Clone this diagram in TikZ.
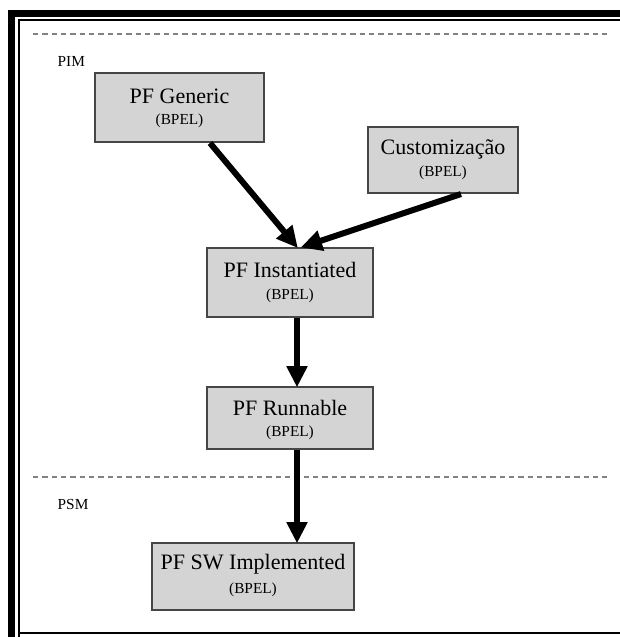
\documentclass[tikz,border=0pt]{standalone}
\usepackage{fontspec}
\setmainfont{Liberation Serif}
\usetikzlibrary{arrows.meta}
\definecolor{boxfill}{RGB}{212,212,212}
\definecolor{boxline}{RGB}{70,70,70}
\definecolor{dashgray}{RGB}{130,130,130}
\tikzset{
  stagebox/.style={draw=boxline, line width=1.1pt, fill=boxfill},
  flow/.style={line width=4.5pt, -{Triangle[length=16pt,width=15pt]}, shorten >=-1pt},
  levelline/.style={draw=dashgray, line width=1.2pt, dash pattern=on 4pt off 3pt},
  levellabel/.style={font=\fontsize{11.5}{13}\selectfont, anchor=west},
  titletext/.style={font=\fontsize{16.5}{19}\selectfont},
  subtext/.style={font=\fontsize{11.5}{13}\selectfont}
}
\begin{document}
\begin{tikzpicture}[x=0.75pt,y=-0.75pt]
\useasboundingbox (0,0) rectangle (620,637);
\fill[white] (0,0) rectangle (620,637);
% double frame: heavy band on top and left, thin rule inside
\fill[black] (8,10) rectangle (620,17);
\fill[black] (8,10) rectangle (15,637);
\draw[line width=1.5pt] (19,637) -- (19,20) -- (620,20);
\draw[line width=1.5pt] (19,633) -- (620,633);
% level separators
\draw[levelline] (33,34) -- (607,34);
\draw[levelline] (33,477) -- (607,477);
\node[levellabel] (pim) at (53,61) {PIM};
\node[levellabel] (psm) at (53,504) {PSM};
% stages
\path[stagebox] (95,73) rectangle (264,142);
\node[titletext] at (179.5,96) {PF Generic};
\node[subtext] at (179.5,121) {(BPEL)};
\path[stagebox] (368,127) rectangle (518,193);
\node[titletext] at (443,149) {Customização};
\node[subtext] at (443,173) {(BPEL)};
\path[stagebox] (207,248) rectangle (373,317);
\node[titletext] at (290,270) {PF Instantiated};
\node[subtext] at (290,296) {(BPEL)};
\path[stagebox] (207,387) rectangle (373,449);
\node[titletext] at (290,408) {PF Runnable};
\node[subtext] at (290,433) {(BPEL)};
\path[stagebox] (152,543) rectangle (354,610);
\node[titletext] at (253,564) {PF SW Implemented};
\node[subtext] at (253,590) {(BPEL)};
% connectors
\coordinate (genout) at (210,143);
\coordinate (cusout) at (461,194);
\coordinate (instin) at (297,247);
\coordinate (instin2) at (302,247);
\coordinate (instout) at (297,318);
\coordinate (runin) at (297,386);
\coordinate (runout) at (297,450);
\coordinate (swin) at (297,542);
\draw[flow] (genout) -- (instin);
\draw[flow] (cusout) -- (instin2);
\draw[flow] (instout) -- (runin);
\draw[flow] (runout) -- (swin);
\end{tikzpicture}
\end{document}
